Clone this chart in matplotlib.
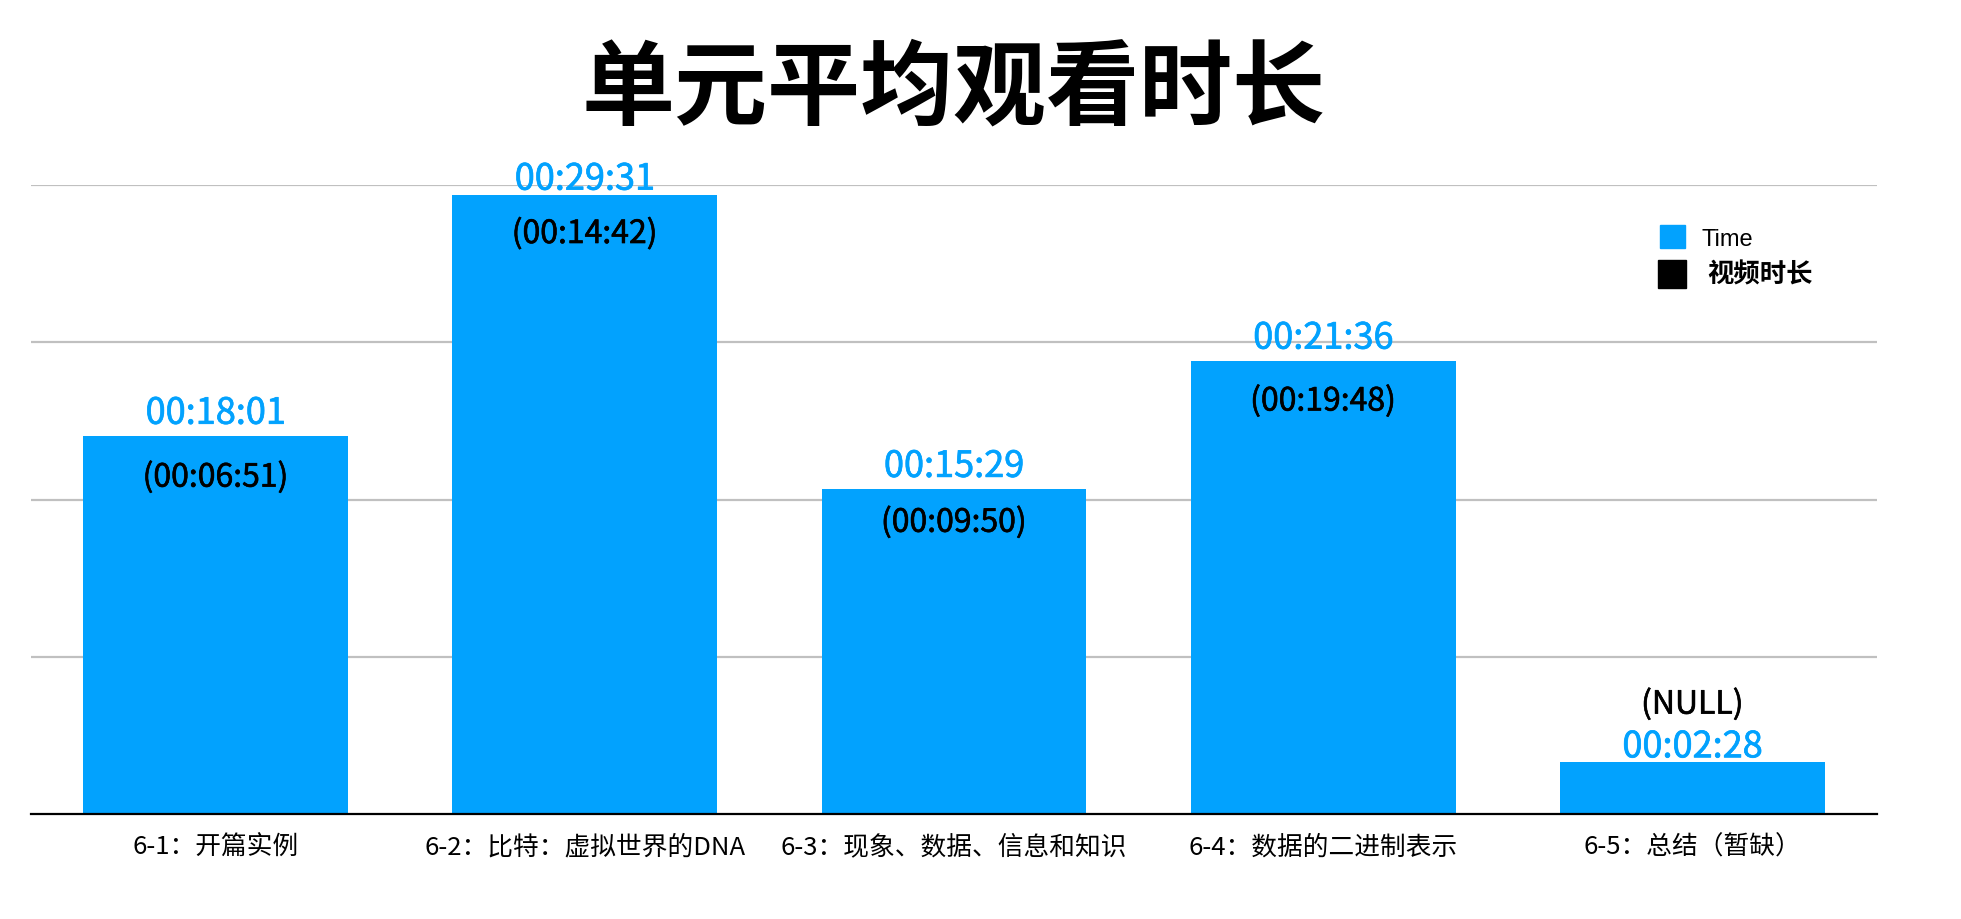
import numpy as np
import matplotlib
matplotlib.use("Agg")
import matplotlib.pyplot as plt
import matplotlib.patheffects as pe
from matplotlib.patches import Rectangle

plt.rcParams['font.family'] = ['Noto Sans CJK SC', 'DejaVu Sans']

# data
units = ['6-1：开篇实例', '6-2：比特：虚拟世界的DNA', '6-3：现象、数据、信息和知识',
         '6-4：数据的二进制表示', '6-5：总结（暂缺）']
avg_watch = ['00:18:01', '00:29:31', '00:15:29', '00:21:36', '00:02:28']
video_len = ['00:06:51', '00:14:42', '00:09:50', '00:19:48', None]

# label offsets from bar top, in pixels (hand placed in the original)
blue_dy = [26.5, 19.5, 26.5, 26.5, 19.0]
black_dy = [-37.5, -35.0, -29.5, -36.5, 61.5]

BLUE = '#02A2FE'


def to_sec(s):
    h, m, sec = (int(v) for v in s.split(':'))
    return h * 3600 + m * 60 + sec


secs = np.array([to_sec(s) for s in avg_watch])
x = np.arange(len(units))

W, H = 1961, 920
fig = plt.figure(figsize=(W / 100, H / 100), dpi=100)
ax = fig.add_axes([31 / W, 1 - 815 / H, (1877 - 31) / W, (815 - 186) / H])

ax.bar(x, secs, width=0.717, color=BLUE, zorder=2)
ax.set_xlim(-0.5, len(units) - 0.5)
ax.set_ylim(0, 1800)
ax.set_yticks([450, 900, 1350, 1800])
ax.yaxis.grid(True, color='#C0C0C0', linewidth=1.6, zorder=0)
ax.set_axisbelow(True)
ax.tick_params(axis='y', length=0, labelleft=False)
ax.set_xticks(x)
ax.set_xticklabels(units, fontsize=18.5)
ax.tick_params(axis='x', length=0, pad=14)
for side in ('top', 'right', 'left'):
    ax.spines[side].set_visible(False)
ax.spines['bottom'].set_linewidth(1.6)
ax.spines['bottom'].set_zorder(3)

px = 0.72  # pixels -> points at dpi 100
for i, (v, lab, vl) in enumerate(zip(secs, avg_watch, video_len)):
    ax.annotate(lab, xy=(i, v), xytext=(0, blue_dy[i] * px), textcoords='offset points',
                ha='center', va='center_baseline', fontsize=26, color=BLUE, zorder=4,
                path_effects=[pe.withStroke(linewidth=0.5, foreground=BLUE)])
    txt = '(%s)' % vl if vl else '(NULL)'
    ax.annotate(txt, xy=(i, v), xytext=(0, black_dy[i] * px), textcoords='offset points',
                ha='center', va='center_baseline', fontsize=23, color='black', zorder=4,
                path_effects=[pe.withStroke(linewidth=0.45, foreground='black')])

fig.text(954 / W, 1 - 90 / H, '单元平均观看时长', ha='center', va='center',
         fontsize=67, fontweight='bold')

# legend drawn by hand
fig.patches.append(Rectangle((1660 / W, 1 - 249 / H), 25 / W, 23 / H,
                             transform=fig.transFigure, color=BLUE))
fig.patches.append(Rectangle((1658 / W, 1 - 289 / H), 28 / W, 28 / H,
                             transform=fig.transFigure, color='black'))
fig.text(1702 / W, 1 - 240 / H, 'Time', ha='left', va='center', fontsize=17,
         family=['Liberation Sans', 'DejaVu Sans'])
fig.text(1707 / W, 1 - 275 / H, '视频时长', ha='left', va='center', fontsize=19,
         fontweight='bold')

fig.savefig('out.png', dpi=100)
